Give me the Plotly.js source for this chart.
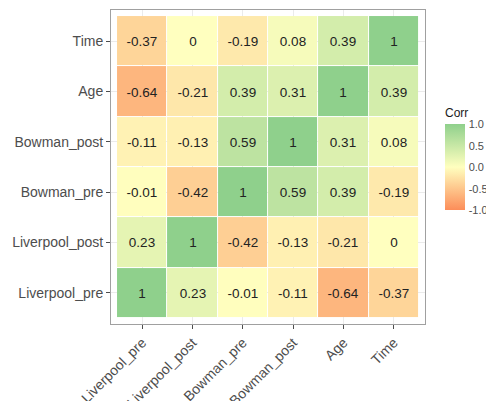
<!DOCTYPE html>
<html>
<head>
<meta charset="utf-8">
<script src="https://cdn.plot.ly/plotly-3.0.1.min.js"></script>
<style>html,body{margin:0;padding:0;background:#fff;}#chart{width:486px;height:401px;}</style>
</head>
<body>
<div id="chart"></div>
<script>
var variables = ["Liverpool_pre", "Liverpool_post", "Bowman_pre", "Bowman_post", "Age", "Time"];
var rowLiverpoolPre  = [1, 0.23, -0.01, -0.11, -0.64, -0.37];
var rowLiverpoolPost = [0.23, 1, -0.42, -0.13, -0.21, 0];
var rowBowmanPre     = [-0.01, -0.42, 1, 0.59, 0.39, -0.19];
var rowBowmanPost    = [-0.11, -0.13, 0.59, 1, 0.31, 0.08];
var rowAge           = [-0.64, -0.21, 0.39, 0.31, 1, 0.39];
var rowTime          = [-0.37, 0, -0.19, 0.08, 0.39, 1];
var colorbarTicks = [-1, -0.5, 0, 0.5, 1];
var colorbarLabels = ["-1.0", "-0.5", "0.0", "0.5", "1.0"];

var z = [rowLiverpoolPre, rowLiverpoolPost, rowBowmanPre, rowBowmanPost, rowAge, rowTime];
var idx = variables.map(function(_, i){ return i; });
var text = z.map(function(r){ return r.map(function(v){ return String(v); }); });

var trace = {
  type: 'heatmap',
  x: idx, y: idx, z: z,
  text: text,
  texttemplate: '%{text}',
  textfont: {family: 'Liberation Sans, Arial, sans-serif', size: 13.5, color: '#222222'},
  zmin: -1, zmax: 1,
  xgap: 1, ygap: 1,
  colorscale: [[0, '#FC8D59'], [0.5, '#FFFFBF'], [1, '#8FD08C']],
  hoverinfo: 'skip',
  colorbar: {
    title: {text: 'Corr', side: 'top', font: {family: 'Liberation Sans, Arial, sans-serif', size: 12, color: '#1a1a1a'}},
    x: 1.0637, xanchor: 'left', xpad: 0,
    y: 0.5287, yanchor: 'middle', ypad: 0,
    thickness: 20, thicknessmode: 'pixels',
    len: 105, lenmode: 'pixels',
    outlinewidth: 0,
    tickvals: colorbarTicks, ticktext: colorbarLabels,
    ticks: 'outside', ticklen: 2, tickcolor: 'rgba(0,0,0,0)',
    tickfont: {family: 'Liberation Sans, Arial, sans-serif', size: 11, color: '#4D4D4D'}
  }
};

var axisCommon = {
  range: [-0.62, 5.62],
  tickvals: idx, ticktext: variables,
  ticks: 'outside', ticklen: 4, tickcolor: '#4D4D4D', tickwidth: 1,
  showgrid: true, gridcolor: '#EBEBEB', gridwidth: 1,
  zeroline: false,
  showline: true, mirror: true, linecolor: '#A0A0A0', linewidth: 1,
  tickfont: {family: 'Liberation Sans, Arial, sans-serif', size: 14, color: '#4D4D4D'},
  fixedrange: true
};

var layout = {
  width: 486, height: 401,
  margin: {l: 111, r: 61, t: 10, b: 77, pad: 0, autoexpand: false},
  paper_bgcolor: '#ffffff', plot_bgcolor: '#ffffff',
  xaxis: Object.assign({}, axisCommon, {tickangle: -45, automargin: false}),
  yaxis: Object.assign({}, axisCommon, {automargin: false}),
  font: {family: 'Liberation Sans, Arial, sans-serif'}
};

Plotly.newPlot('chart', [trace], layout, {displayModeBar: false, staticPlot: true});
</script>
</body>
</html>
